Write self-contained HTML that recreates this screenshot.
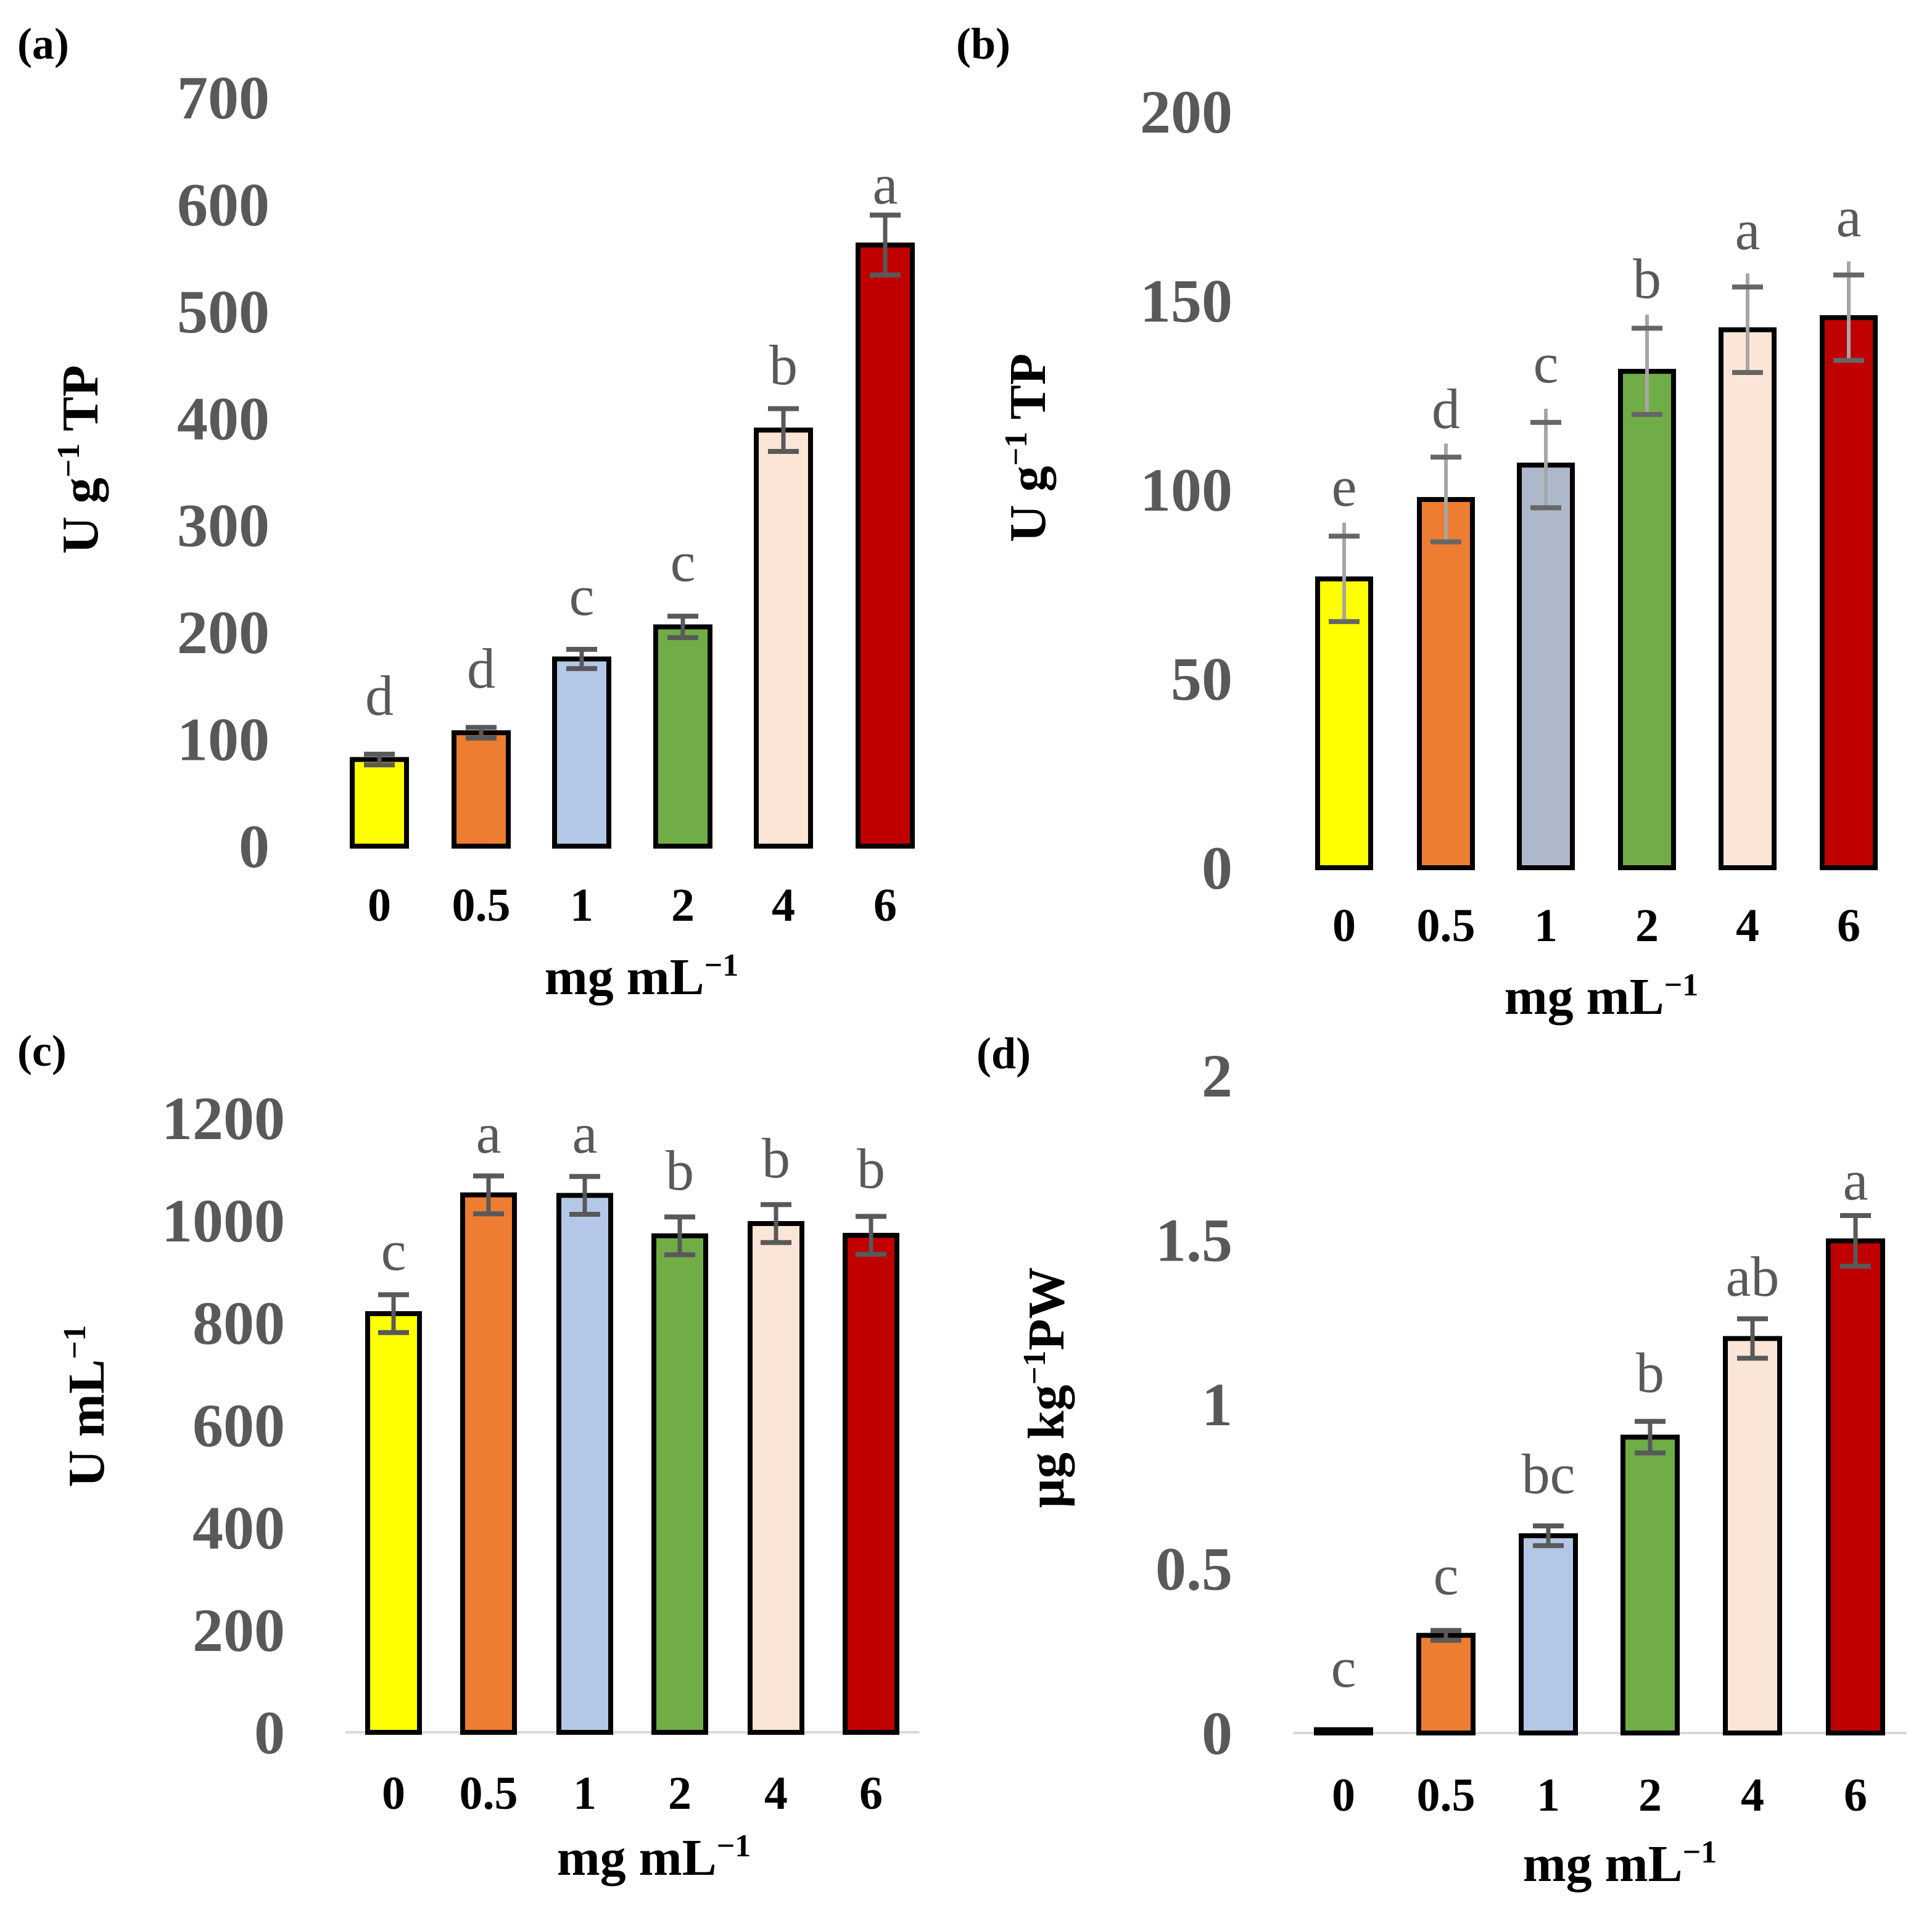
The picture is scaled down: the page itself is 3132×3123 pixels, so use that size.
<!DOCTYPE html>
<html><head><meta charset="utf-8"><style>
html,body{margin:0;padding:0;background:#fff;}
svg{display:block;}
text{font-family:"Liberation Serif",serif;}
</style></head>
<body>
<svg id="fig" width="3132" height="3123" viewBox="0 0 3132 3123" xmlns="http://www.w3.org/2000/svg"></svg>
<script>
const categories = ["0","0.5","1","2","4","6"];
const colorsA = ["#ffff00","#ed7d31","#b4c7e7","#70ad47","#fbe5d6","#c00000"];
const colorsB = ["#ffff00","#ed7d31","#adb9ca","#70ad47","#fbe5d6","#c00000"];

const valuesA = [81, 106, 175, 205, 389, 562];
const errorsA = [5, 5, 9, 10, 20, 28];
const lettersA = ["d","d","c","c","b","a"];
const ticksA = [0,100,200,300,400,500,600,700];

const valuesB = [76.4, 97.4, 106.5, 131.3, 142.3, 145.5];
const errorsB = [11.3, 11.2, 11.3, 11.4, 11.3, 11.3];
const lettersB = ["e","d","c","b","a","a"];
const ticksB = [0,50,100,150,200];

const valuesC = [818, 1050, 1049, 970, 994, 971];
const errorsC = [37, 37, 37, 37, 37, 37];
const lettersC = ["c","a","a","b","b","b"];
const ticksC = [0,200,400,600,800,1000,1200];

const valuesD = [0.01, 0.297, 0.6, 0.9, 1.2, 1.497];
const errorsD = [0, 0.015, 0.03, 0.048, 0.06, 0.077];
const lettersD = ["c","c","bc","b","ab","a"];
const ticksD = [0,0.5,1,1.5,2];

const NS = "http://www.w3.org/2000/svg";
const svg = document.getElementById("fig");
function mk(tag, attrs, parent, txt){
  const e = document.createElementNS(NS, tag);
  for (const k in attrs) e.setAttribute(k, attrs[k]);
  if (txt !== undefined) e.textContent = txt;
  (parent||svg).appendChild(e);
  return e;
}

function panel(p){
  const g = mk("g", {});
  
  
  const y = v => p.y0 - (v - 0) * (p.y0 - p.yTop) / (p.max);
  const pl = mk("text", {x:p.lx, y:p.ly, "font-size":72, "font-weight":"bold", fill:"#000"}, g, "(" + p.id + ")");
  
  
  p.ticks.forEach(t => {
    const tt = mk("text", {x:p.tickX, y:y(t)+34, "font-size":100, "font-weight":"bold", fill:"#595959", "text-anchor":"end"}, g, String(t));
    
    
  });
  if (p.axis) {
    const ax = mk("line", {x1:p.axis[0], x2:p.axis[1], y1:p.y0, y2:p.y0, stroke:"#d9d9d9", "stroke-width":4}, g);
    
    
  }
  p.values.forEach((v,i) => {
    const cx = p.cx[i];
    const top = y(v);
    const r = mk("rect", {x:cx - p.bw/2, y:top, width:p.bw, height:Math.max(p.y0 - top, 1), fill:p.colors[i], stroke:"#000", "stroke-width":8}, g);
    
    
    const e = p.errors[i];
    if (e > 0) {
      const eg = mk("g", {}, g);
      
      
      const hi = y(v + e), lo = y(v - e);
      mk("line", {x1:cx, x2:cx, y1:hi - (p.stub||0), y2:lo, stroke:p.ecol, "stroke-width":p.ew}, eg);
      mk("line", {x1:cx-25, x2:cx+25, y1:hi, y2:hi, stroke:p.ccol, "stroke-width":8}, eg);
      mk("line", {x1:cx-25, x2:cx+25, y1:lo, y2:lo, stroke:p.ccol, "stroke-width":8}, eg);
    }
    const lt = mk("text", {x:cx, y:p.letterY[i], "font-size":92, fill:"#595959", "text-anchor":"middle", "dominant-baseline":"central"}, g, p.letters[i]);
    
    
    const xl = mk("text", {x:cx, y:p.xlY + 26, "font-size":76, "font-weight":"bold", fill:"#000", "text-anchor":"middle"}, g, categories[i]);
    
    
  });
  const xt = mk("text", {x:p.xtX, y:p.xtY + 20, "font-size":84, "font-weight":"bold", fill:"#000", "text-anchor":"middle"}, g);
  
  
  mk("tspan", {}, xt, "mg mL");
  mk("tspan", {dy:-30, "font-size":52}, xt, "−1");
  const yt = mk("text", {transform:"translate(" + (p.ytX + 28) + "," + p.ytY + ") rotate(-90)", "font-size":84, "font-weight":"bold", fill:"#000", "text-anchor":"middle"}, g);
  
  
  p.ytitle.forEach(s => { if (s.sup) mk("tspan", {dy:-30, "font-size":52}, yt, s.t); else mk("tspan", {dy:s.dy||0}, yt, s.t); });
}

panel({id:"a", y0:1372, yTop:158, max:700, ticks:ticksA, tickX:437, values:valuesA, errors:errorsA, letters:lettersA,
  colors:colorsA, cx:[615,780,943,1107,1270,1435], bw:88, ecol:"#595959", ccol:"#595959", ew:7,
  letterY:[1128,1084,966,911,592,299], xlY:1467, xtX:1040, xtY:1592, ytX:130, ytY:745, lx:28, ly:95,
  ytitle:[{t:"U g"},{t:"−1",sup:true},{t:" TP",dy:30}]});

panel({id:"b", y0:1407, yTop:181, max:200, ticks:ticksB, tickX:1998, values:valuesB, errors:errorsB, letters:lettersB,
  colors:colorsB, cx:[2179,2344,2506,2670,2833,2997], bw:86, ecol:"#a6a6a6", ccol:"#666666", ew:6, stub:22,
  letterY:[789,663,589,452,373,352], xlY:1500, xtX:2596, xtY:1624, ytX:1666, ytY:726, lx:1550, ly:95,
  ytitle:[{t:"U g"},{t:"−1",sup:true},{t:" TP",dy:30}]});

panel({id:"c", y0:2809, yTop:1813, max:1200, ticks:ticksC, tickX:462, values:valuesC, errors:errorsC, letters:lettersC,
  colors:colorsA, cx:[638,792,948,1102,1258,1412], bw:84, ecol:"#595959", ccol:"#595959", ew:7, axis:[560,1490],
  letterY:[2028,1838,1838,1898,1878,1895], xlY:2907, xtX:1060, xtY:3020, ytX:140, ytY:2280, lx:28, ly:1728,
  ytitle:[{t:"U mL"},{t:"−1",sup:true}]});

panel({id:"d", y0:2810, yTop:1744, max:2, ticks:ticksD, tickX:1998, values:valuesD, errors:errorsD, letters:lettersD,
  colors:colorsA, cx:[2178,2344,2510,2675,2841,3008], bw:88, ecol:"#595959", ccol:"#595959", ew:7, axis:[2096,3091],
  letterY:[2704,2554,2390,2226,2070,1914], xlY:2910, xtX:2626, xtY:3030, ytX:1696, ytY:2250, lx:1583, ly:1732,
  ytitle:[{t:"µg kg"},{t:"−1",sup:true},{t:"PW",dy:30}]});
</script>
</body></html>
